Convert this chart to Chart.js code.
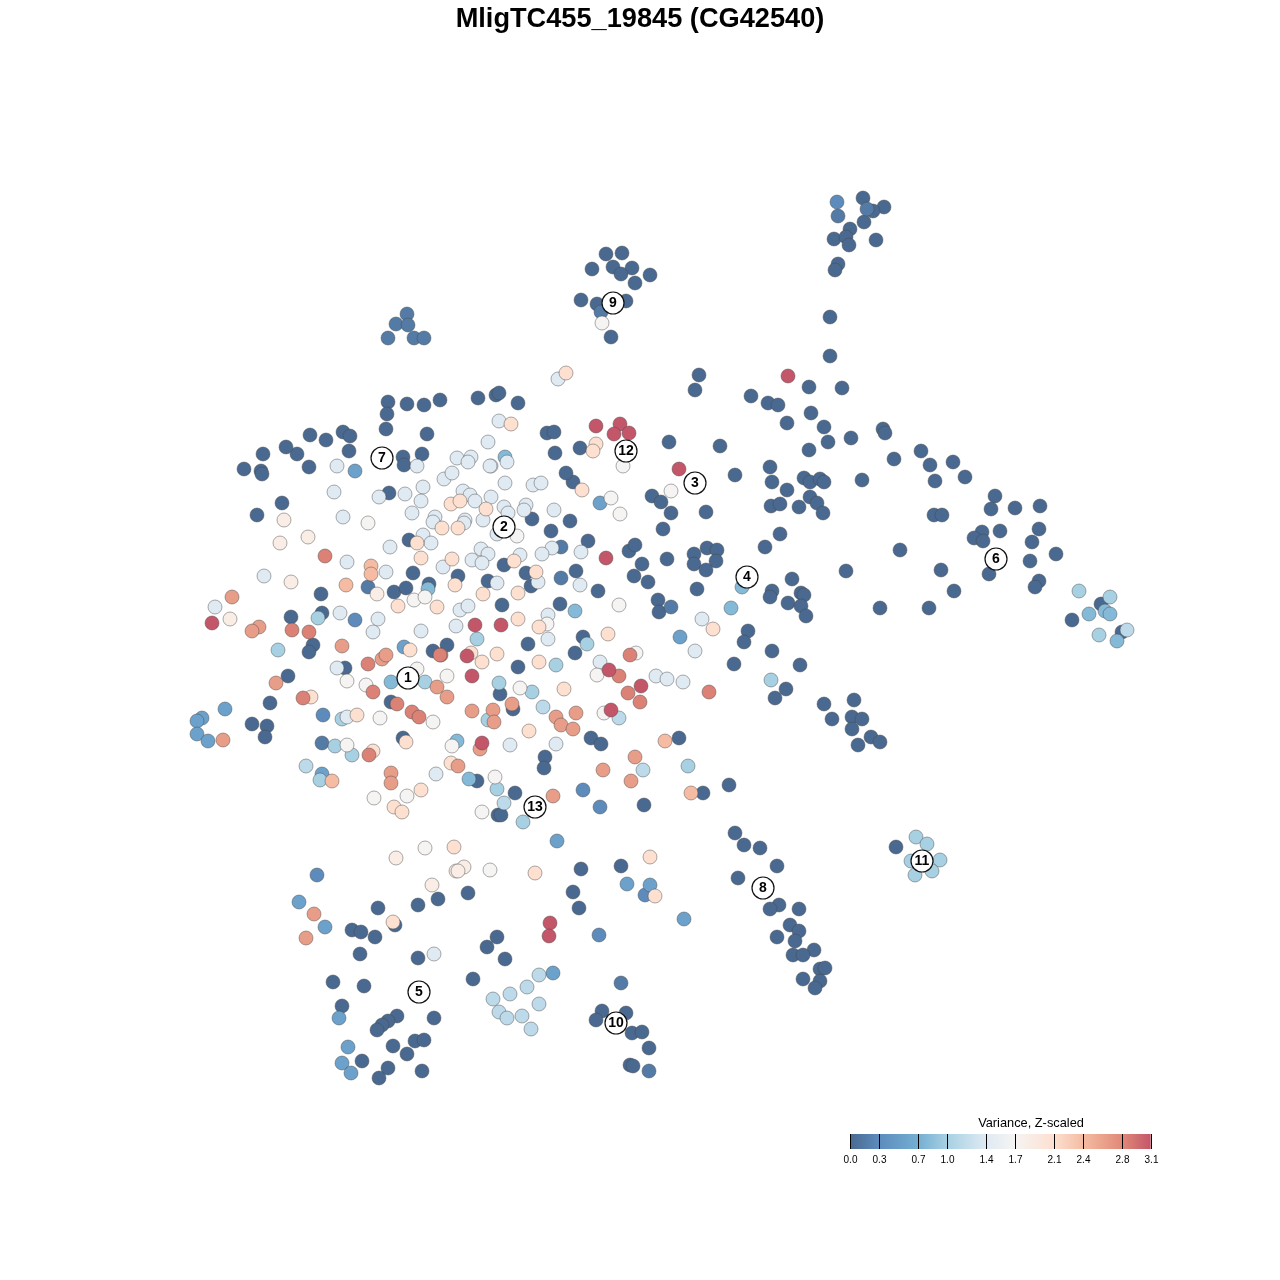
<!DOCTYPE html>
<html>
<head>
<meta charset="utf-8">
<style>html,body{margin:0;padding:0;background:#fff}canvas{display:block}</style>
<script src="https://cdn.jsdelivr.net/npm/chart.js@4"></script>
</head>
<body>
<canvas id="c" width="1280" height="1280"></canvas>
<script>
const chartTitle = "MligTC455_19845 (CG42540)";
const legendTitle = "Variance, Z-scaled";
const tickValues = [0.0,0.3,0.7,1.0,1.4,1.7,2.1,2.4,2.8,3.1];
const stopValues = [0,0.3,0.7,1.0,1.4,1.7,2.1,2.4,2.8,3.1];
const stopColors = ["#496990","#5d8cbc","#74aed2","#a7d0e3","#dfeaf3","#f6f4f3","#fde0d0","#f5bca3","#e08a78","#c4566a"];

const clusterIds = [1,2,3,4,5,6,7,8,9,10,11,12,13];
const clusterX = [408,504,695,747,419,996,382,763,613,616,922,626,535];
const clusterY = [678,527,483,577,992,559,458,888,303,1023,861,451,807];

const levels = [0,0.15,0.3,0.55,0.8,1.0,1.15,1.4,1.7,1.85,2.1,2.4,2.65,2.85,3.1];

const v000 = [[388,402],[387,414],[407,404],[424,405],[440,400],[478,398],[496,395],[499,393],[386,429],[427,434],[310,435],[326,440],[343,432],[350,436],[349,451],[297,454],[286,447],[263,454],[244,469],[261,471],[262,474],[309,467],[422,454],[403,457],[404,465],[389,493],[282,503],[257,515],[409,540],[413,573],[458,576],[429,584],[394,592],[406,588],[488,581],[321,594],[322,613],[291,617],[502,605],[313,645],[309,652],[447,645],[433,651],[345,668],[288,676],[270,703],[391,702],[252,724],[267,726],[265,737],[403,738],[477,781],[498,815],[518,403],[532,519],[551,531],[570,521],[588,541],[504,565],[526,573],[531,586],[560,604],[576,571],[598,591],[583,637],[575,653],[528,644],[748,631],[744,642],[697,589],[658,600],[659,612],[648,582],[634,576],[642,564],[629,551],[635,545],[667,559],[663,529],[671,513],[652,496],[661,502],[706,512],[669,442],[720,446],[735,475],[707,548],[717,550],[694,554],[694,564],[716,561],[706,570],[765,547],[573,482],[566,473],[555,453],[547,433],[554,432],[580,448],[518,667],[500,694],[513,709],[734,664],[591,738],[601,744],[679,738],[545,757],[544,768],[703,793],[729,785],[515,793],[501,815],[644,805],[735,833],[744,845],[760,848],[621,866],[581,869],[738,878],
[863,198],[884,207],[873,211],[864,222],[850,229],[834,239],[846,237],[876,240],[849,245],[838,264],[835,270],
[606,254],[622,253],[613,267],[632,268],[592,269],[621,274],[650,275],[635,283],[581,300],[597,304],[626,301],[611,337],
[830,317],[830,356],[699,375],[695,390],[809,387],[842,388],[751,396],[768,403],[778,405],[811,413],[787,423],[824,427],[828,442],[851,438],[809,450],[883,429],[885,433],[921,451],[894,459],[930,465],[953,462],[935,481],[965,477],[770,467],[772,482],[804,478],[810,482],[820,479],[824,482],[862,480],[787,490],[810,497],[817,503],[771,506],[780,504],[799,507],[823,513],[780,534],[995,496],[991,509],[1015,508],[1040,506],[934,515],[942,515],[1039,529],[982,532],[1000,531],[974,538],[983,541],[1032,542],[1056,554],[1030,561],[900,550],[846,571],[941,570],[989,574],[1039,581],[1035,587],[954,591],[880,608],[929,608],[792,579],[772,591],[770,597],[801,593],[804,595],[788,603],[801,606],[806,616],[772,651],[800,665],[786,689],[775,698],[824,704],[854,700],[832,719],[852,717],[862,719],[852,729],[871,737],[880,742],[858,745],
[1101,604],[1072,620],[1122,632],[896,847],
[777,866],[779,905],[770,909],[799,909],[790,925],[799,931],[777,937],[795,941],[814,950],[793,955],[803,955],[820,969],[825,968],[803,979],[820,981],[815,988],
[573,892],[579,908],[468,893],[438,899],[418,905],[378,908],[395,925],[352,930],[361,932],[375,937],[497,937],[487,947],[360,954],[505,959],[418,958],[473,979],[333,982],[364,986],[342,1006],[602,1011],[626,1013],[596,1020],[434,1018],[397,1016],[388,1021],[382,1025],[377,1030],[632,1033],[642,1032],[649,1048],[393,1046],[415,1041],[424,1040],[407,1054],[362,1061],[388,1068],[379,1078],[422,1071],[630,1065],[633,1066]];
const v015 = [[368,587],[407,314],[396,324],[408,325],[388,338],[414,338],[424,338],[561,578],[561,547],[322,743],[671,607],[867,209],[838,216],[601,312],[621,983],[649,1071]];
const v030 = [[355,620],[323,715],[317,875],[583,790],[600,807],[837,202],[599,935],[645,895]];
const v055 = [[355,471],[404,647],[225,709],[202,718],[197,721],[197,734],[208,741],[322,774],[680,637],[600,503],[627,884],[650,885],[684,919],[557,841],[299,902],[325,927],[553,973],[339,1018],[348,1047],[342,1063],[351,1073]];
const v080 = [[428,589],[391,682],[505,457],[575,611],[731,608],[742,587],[457,741],[469,779],[1089,614],[1105,611],[1110,614],[1117,641]];
const v100 = [[318,618],[278,650],[477,639],[425,682],[342,719],[335,746],[352,755],[488,720],[499,683],[532,692],[556,665],[587,644],[320,780],[497,789],[688,766],[771,680],[523,822],[1079,591],[1110,597],[1099,635],[916,837],[927,844],[911,861],[940,860],[932,871],[915,875]];
const v115 = [[306,766],[543,707],[619,718],[643,770],[504,803],[539,975],[527,987],[510,994],[493,999],[539,1004],[499,1012],[507,1018],[522,1016],[531,1029],[1127,630]];
const v140 = [[337,466],[334,492],[379,497],[405,494],[423,487],[421,501],[412,513],[343,517],[390,547],[423,535],[431,543],[435,517],[433,522],[347,562],[386,572],[264,576],[215,607],[340,613],[378,619],[373,632],[421,631],[337,668],[443,567],[460,610],[468,606],[456,626],[481,549],[488,554],[472,560],[482,563],[417,466],[444,479],[452,473],[457,458],[471,457],[468,462],[491,466],[488,442],[499,421],[463,491],[470,495],[475,501],[491,497],[465,520],[464,523],[483,520],[497,583],[497,534],[347,717],[507,462],[490,466],[505,483],[533,485],[541,483],[504,507],[508,513],[526,505],[524,510],[554,510],[581,552],[552,548],[542,554],[520,555],[538,582],[580,585],[548,615],[548,639],[695,651],[702,619],[600,662],[656,676],[667,679],[683,682],[556,744],[510,745],[436,774],[558,379],[434,954]];
const v170 = [[368,523],[414,600],[425,597],[347,681],[366,685],[447,676],[417,669],[380,718],[433,722],[452,746],[347,745],[495,777],[374,798],[407,796],[482,812],[425,848],[490,870],[517,536],[547,624],[619,605],[636,653],[611,498],[620,514],[671,491],[623,466],[597,675],[520,688],[604,713],[602,323]];
const v185 = [[284,520],[280,543],[308,537],[291,582],[230,619],[377,594],[396,858],[456,871],[464,867],[432,885],[458,871]];
const v210 = [[417,543],[421,558],[452,559],[455,585],[398,606],[437,607],[483,594],[451,504],[460,501],[486,509],[442,528],[458,528],[410,650],[482,662],[471,653],[497,654],[311,697],[357,715],[373,751],[406,742],[451,763],[421,790],[394,807],[402,812],[454,847],[511,424],[514,561],[536,572],[518,593],[518,619],[539,627],[608,634],[713,629],[582,490],[596,444],[593,451],[539,662],[564,689],[529,731],[650,857],[535,873],[566,373],[393,922],[655,896]];
const v240 = [[371,566],[371,574],[346,585],[332,781],[665,741],[691,793]];
const v265 = [[232,597],[259,627],[252,631],[342,646],[382,659],[386,655],[276,683],[437,687],[447,697],[472,711],[223,740],[480,749],[458,766],[512,704],[493,710],[494,722],[556,717],[576,713],[561,725],[573,729],[635,757],[603,770],[631,781],[553,796],[314,914],[306,938],[391,773],[391,783]];
const v285 = [[325,556],[292,630],[309,632],[368,664],[441,655],[373,692],[397,704],[412,712],[419,717],[303,698],[369,755],[630,655],[440,655],[619,676],[628,693],[640,702],[709,692]];
const v310 = [[212,623],[475,625],[501,625],[467,656],[472,676],[482,743],[606,558],[679,469],[596,426],[620,424],[614,434],[629,433],[609,670],[641,686],[611,710],[788,376],[550,923],[549,936]];

const groups = [v000,v015,v030,v055,v080,v100,v115,v140,v170,v185,v210,v240,v265,v285,v310];

function hex(c){return [1,3,5].map(i=>parseInt(c.substr(i,2),16));}
function colourFor(v){
  let i=0; while(i<stopValues.length-2 && v>stopValues[i+1]) i++;
  const t=(v-stopValues[i])/(stopValues[i+1]-stopValues[i]);
  const a=hex(stopColors[i]), b=hex(stopColors[i+1]);
  return "rgb("+a.map((p,k)=>Math.round(p+(b[k]-p)*t)).join(",")+")";
}

const datasets = groups.map((g,i)=>({
  label:"Variance "+levels[i],
  data:g.map(p=>({x:p[0],y:p[1]})),
  backgroundColor:colourFor(levels[i]),
  borderColor:"rgba(70,70,70,0.45)",
  borderWidth:1,
  pointRadius:7,
  pointHoverRadius:7,
  order:groups.length-i
}));
datasets.push({
  label:"Clusters",
  data:clusterX.map((x,i)=>({x:x,y:clusterY[i]})),
  backgroundColor:"#ffffff",
  borderColor:"#111111",
  borderWidth:1.2,
  pointRadius:11,
  pointHoverRadius:11,
  order:0
});

const overlay = {
  id:"overlay",
  afterDraw(chart){
    const ctx=chart.ctx, sx=chart.scales.x, sy=chart.scales.y;
    ctx.save();
    ctx.textAlign="center"; ctx.textBaseline="middle";
    ctx.font="bold 14px 'Liberation Sans'"; ctx.fillStyle="#000";
    clusterIds.forEach((id,i)=>{
      ctx.fillText(String(id),sx.getPixelForValue(clusterX[i]),sy.getPixelForValue(clusterY[i])+0.5);
    });
    const x0=850,unit=97,top=1134,h=15;
    const W=unit*3.1;
    const grad=ctx.createLinearGradient(x0,0,x0+W,0);
    stopValues.forEach((v,i)=>grad.addColorStop(v/3.1,stopColors[i]));
    ctx.fillStyle=grad; ctx.fillRect(x0,top,W,h);
    ctx.strokeStyle="#000"; ctx.lineWidth=1;
    ctx.font="10px 'Liberation Sans'"; ctx.fillStyle="#000";
    tickValues.forEach(v=>{
      const x=Math.round(x0+v*unit)+0.5;
      ctx.beginPath(); ctx.moveTo(x,top); ctx.lineTo(x,top+h); ctx.stroke();
      ctx.fillText(v.toFixed(1),x,1160);
    });
    ctx.font="12.8px 'Liberation Sans'";
    ctx.fillText(legendTitle,1031,1123);
    ctx.restore();
  }
};

new Chart(document.getElementById("c"),{
  type:"scatter",
  data:{datasets},
  plugins:[overlay],
  options:{
    responsive:false,
    animation:false,
    events:[],
    layout:{padding:0,autoPadding:false},
    scales:{
      x:{type:"linear",min:0,max:1280,display:false},
      y:{type:"linear",min:36,max:1280,reverse:true,display:false}
    },
    plugins:{
      legend:{display:false},
      tooltip:{enabled:false},
      title:{
        display:true,
        text:chartTitle,
        color:"#000",
        font:{family:"'Liberation Sans'",size:27.2,weight:"bold",lineHeight:"32px"},
        padding:{top:4,bottom:0}
      }
    }
  }
});
</script>
</body>
</html>
